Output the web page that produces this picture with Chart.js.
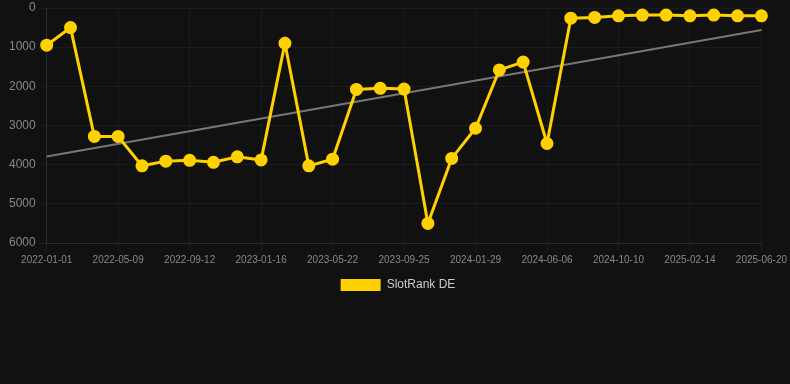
<!DOCTYPE html>
<html>
<head>
<meta charset="utf-8">
<script src="https://cdn.jsdelivr.net/npm/chart.js@4/dist/chart.umd.min.js"></script>
<style>
  html, body { margin: 0; padding: 0; background: #111111; }
  #wrap { width: 790px; height: 301px; position: relative; }
</style>
</head>
<body>
<div id="wrap"><canvas id="c"></canvas></div>
<script>
const categories = ["2022-01-01","2022-02-12","2022-03-26","2022-05-09","2022-06-20","2022-08-01","2022-09-12","2022-10-24","2022-12-05","2023-01-16","2023-02-27","2023-04-10","2023-05-22","2023-07-03","2023-08-14","2023-09-25","2023-11-06","2023-12-18","2024-01-29","2024-03-11","2024-04-23","2024-06-06","2024-07-18","2024-08-29","2024-10-10","2024-11-21","2025-01-03","2025-02-14","2025-03-28","2025-05-09","2025-06-20"];
const rankValues = [950,500,3280,3280,4030,3910,3890,3940,3800,3880,900,4030,3860,2080,2050,2070,5500,3840,3070,1580,1380,3460,260,240,200,180,180,200,180,200,200];
const trendValues = [3790, 560];
const yTicks = [0,1000,2000,3000,4000,5000,6000];
const seriesName = "SlotRank DE";

const rankPoints = rankValues.map((v, i) => ({ x: i, y: v }));
const trendPoints = [{ x: 0, y: trendValues[0] }, { x: categories.length - 1, y: trendValues[1] }];

new Chart(document.getElementById('c'), {
  type: 'line',
  data: {
    datasets: [
      {
        label: seriesName,
        data: rankPoints,
        borderColor: '#ffd100',
        backgroundColor: '#ffd100',
        borderWidth: 3,
        pointRadius: 5,
        pointHoverRadius: 5,
        pointBackgroundColor: '#ffd100',
        pointBorderColor: '#ffd100',
        tension: 0,
        clip: false
      },
      {
        label: 'trend',
        data: trendPoints,
        borderColor: '#777777',
        borderWidth: 2,
        pointRadius: 0,
        fill: false,
        clip: false
      }
    ]
  },
  options: {
    responsive: true,
    maintainAspectRatio: false,
    animation: false,
    layout: { padding: { left: 6, right: 0, top: 0, bottom: 0 } },
    scales: {
      x: {
        type: 'linear',
        min: 0,
        max: categories.length - 1,
        grid: { color: 'rgba(255,255,255,0.045)', tickColor: 'rgba(255,255,255,0.045)' },
        border: { color: 'rgba(255,255,255,0.08)' },
        afterBuildTicks: (axis) => {
          axis.ticks = [];
          for (let i = 0; i < categories.length; i += 3) axis.ticks.push({ value: i });
        },
        ticks: {
          color: '#888888',
          font: { size: 10, family: 'Liberation Sans, Arial, sans-serif' },
          maxRotation: 0,
          autoSkip: false,
          callback: (v) => categories[v] || ''
        }
      },
      y: {
        reverse: true,
        min: 0,
        max: 6000,
        grid: { color: 'rgba(255,255,255,0.045)', tickColor: 'rgba(255,255,255,0.045)' },
        border: { color: 'rgba(255,255,255,0.08)' },
        afterBuildTicks: (axis) => { axis.ticks = yTicks.map(v => ({ value: v })); },
        ticks: {
          color: '#888888',
          font: { size: 12, family: 'Liberation Sans, Arial, sans-serif', lineHeight: 0.6 },
          callback: (v) => String(v)
        }
      }
    },
    plugins: {
      legend: {
        position: 'bottom',
        labels: {
          color: '#cccccc',
          boxWidth: 40,
          boxHeight: 12,
          font: { size: 12, family: 'Liberation Sans, Arial, sans-serif' },
          filter: (item) => item.datasetIndex === 0,
          generateLabels: (chart) => {
            const items = Chart.defaults.plugins.legend.labels.generateLabels(chart);
            items.forEach(it => { it.lineWidth = 0; });
            return items;
          }
        }
      },
      tooltip: { enabled: false }
    }
  }
});
</script>
</body>
</html>
